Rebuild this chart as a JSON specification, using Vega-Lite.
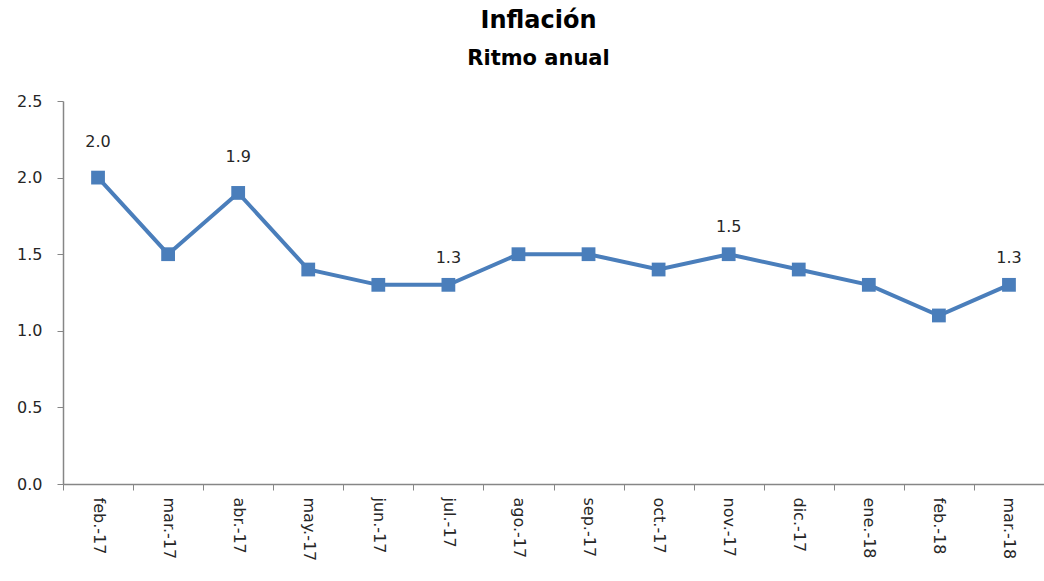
{
  "$schema": "https://vega.github.io/schema/vega-lite/v6.json",
  "autosize": "none",
  "width": 981,
  "height": 383,
  "padding": {"left": 63, "top": 101, "right": 0, "bottom": 97},
  "background": "white",
  "config": {"view": {"stroke": null}, "font": "DejaVu Sans"},
  "title": {
    "text": "Inflación",
    "subtitle": "Ritmo anual",
    "anchor": "middle",
    "dx": -15,
    "offset": 24,
    "font": "DejaVu Sans",
    "fontSize": 24,
    "fontWeight": "bold",
    "color": "#000000",
    "subtitleFont": "DejaVu Sans",
    "subtitleFontSize": 21,
    "subtitleFontWeight": "bold",
    "subtitleColor": "#000000",
    "subtitlePadding": 15
  },
  "data": {
    "values": [
      {"mes": "feb.-17", "valor": 2.0},
      {"mes": "mar.-17", "valor": 1.5},
      {"mes": "abr.-17", "valor": 1.9},
      {"mes": "may.-17", "valor": 1.4},
      {"mes": "jun.-17", "valor": 1.3},
      {"mes": "jul.-17", "valor": 1.3},
      {"mes": "ago.-17", "valor": 1.5},
      {"mes": "sep.-17", "valor": 1.5},
      {"mes": "oct.-17", "valor": 1.4},
      {"mes": "nov.-17", "valor": 1.5},
      {"mes": "dic.-17", "valor": 1.4},
      {"mes": "ene.-18", "valor": 1.3},
      {"mes": "feb.-18", "valor": 1.1},
      {"mes": "mar.-18", "valor": 1.3}
    ]
  },
  "encoding": {
    "x": {
      "field": "mes",
      "type": "nominal",
      "sort": null,
      "scale": {"type": "band", "paddingInner": 0, "paddingOuter": 0},
      "axis": {
        "title": null,
        "labelAngle": 90,
        "labelAlign": "left",
        "labelBaseline": "middle",
        "labelFont": "DejaVu Sans",
        "labelFontSize": 16,
        "labelColor": "#262626",
        "labelPadding": 7,
        "tickBand": "extent",
        "tickSize": 6,
        "tickColor": "#868686",
        "domainColor": "#868686",
        "domainWidth": 1.5,
        "grid": false
      }
    },
    "y": {
      "field": "valor",
      "type": "quantitative",
      "scale": {"domain": [0, 2.5], "nice": false},
      "axis": {
        "title": null,
        "values": [0, 0.5, 1, 1.5, 2, 2.5],
        "format": ".1f",
        "labelFont": "DejaVu Sans",
        "labelFontSize": 16,
        "labelColor": "#262626",
        "labelPadding": 15,
        "tickSize": 6,
        "tickColor": "#868686",
        "domainColor": "#868686",
        "domainWidth": 1.5,
        "grid": false
      }
    }
  },
  "layer": [
    {
      "mark": {"type": "line", "color": "#4a7ebb", "strokeWidth": 4}
    },
    {
      "mark": {"type": "point", "shape": "square", "filled": true, "opacity": 1, "color": "#4a7ebb", "size": 190}
    },
    {
      "transform": [{"filter": {"field": "mes", "oneOf": ["feb.-17", "abr.-17"]}}],
      "mark": {"type": "text", "dy": -36, "fontSize": 16, "font": "DejaVu Sans", "color": "#262626"},
      "encoding": {"text": {"field": "valor", "type": "quantitative", "format": ".1f"}}
    },
    {
      "transform": [{"filter": {"field": "mes", "oneOf": ["jul.-17", "nov.-17", "mar.-18"]}}],
      "mark": {"type": "text", "dy": -27, "fontSize": 16, "font": "DejaVu Sans", "color": "#262626"},
      "encoding": {"text": {"field": "valor", "type": "quantitative", "format": ".1f"}}
    }
  ]
}
